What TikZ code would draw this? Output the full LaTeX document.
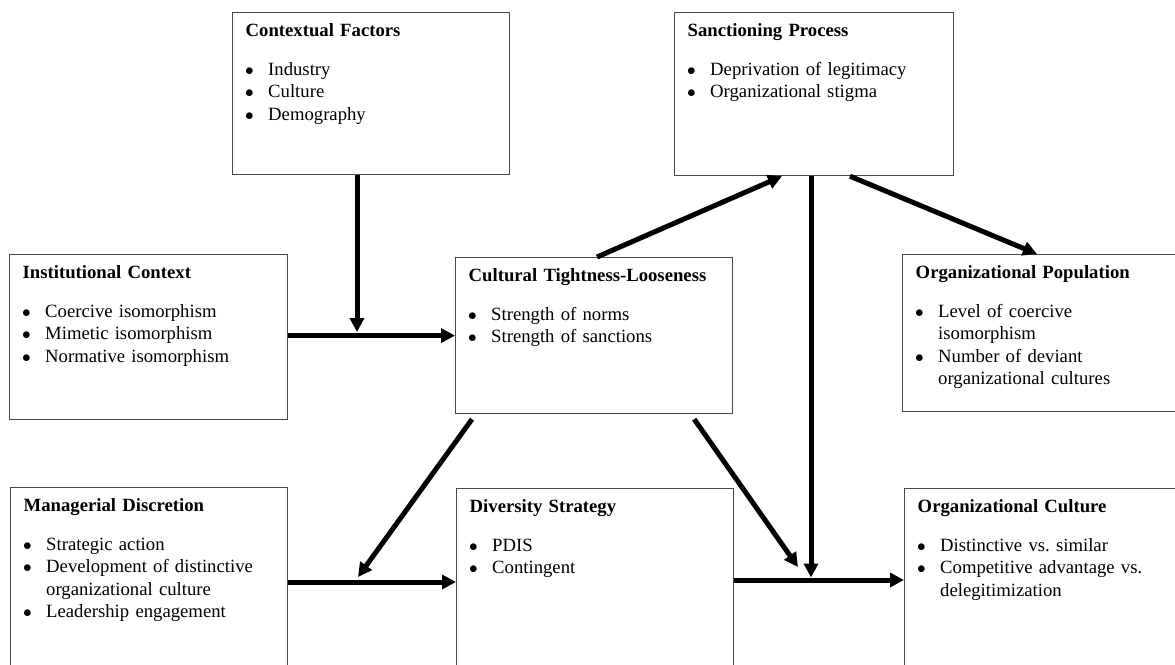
\documentclass[tikz,border=0pt]{standalone}
\usepackage{fontspec}
\setmainfont{Liberation Serif}
\usetikzlibrary{arrows.meta,calc}
\frenchspacing
\newcommand{\ttl}[1]{\noindent\rule{0pt}{14pt}\textbf{#1}\par\vspace{17pt}}
\newcommand{\bitem}[1]{\hangindent=22.5pt\hangafter=1\noindent\makebox[22.5pt][l]{\hspace{-0.7pt}$\bullet$}#1\par}
\begin{document}
\begin{tikzpicture}[x=1pt,y=-1pt,
  boxnode/.style={draw=black!72, line width=1.2pt, anchor=north west, inner sep=0pt},
  txt/.style={anchor=north west, inner sep=0pt, text width=262pt, align=left, font=\fontsize{18.7}{22.3}\selectfont},
  arr/.style={line width=5pt, -{Triangle[length=14pt,width=14pt]}},
]
\useasboundingbox (0,0) rectangle (1175,664);
\clip (0,0) rectangle (1175,664);
% boxes
\node[boxnode, minimum width=277pt, minimum height=162pt] (ctx)  at (232,12) {};
\node[boxnode, minimum width=279pt, minimum height=163pt] (sanc) at (674,12) {};
\node[boxnode, minimum width=278pt, minimum height=165pt] (inst) at (9,254) {};
\node[boxnode, minimum width=277pt, minimum height=156pt] (cult) at (455,257) {};
\node[boxnode, minimum width=290pt, minimum height=157pt] (pop)  at (902,254) {};
\node[boxnode, minimum width=277pt, minimum height=200pt] (mgr)  at (10,487) {};
\node[boxnode, minimum width=277pt, minimum height=200pt] (div)  at (456,488) {};
\node[boxnode, minimum width=290pt, minimum height=200pt] (oc)   at (904,488) {};
% texts
\node[txt] (ctx-t) at ([xshift=13.5pt,yshift=-10pt]ctx.north west)
  {\ttl{Contextual Factors}\bitem{Industry}\bitem{Culture}\bitem{Demography}};
\node[txt] (sanc-t) at ([xshift=13.5pt,yshift=-10pt]sanc.north west)
  {\ttl{Sanctioning Process}\bitem{Deprivation of legitimacy}\bitem{Organizational stigma}};
\node[txt] (inst-t) at ([xshift=13.5pt,yshift=-10pt]inst.north west)
  {\ttl{Institutional Context}\bitem{Coercive isomorphism}\bitem{Mimetic isomorphism}\bitem{Normative isomorphism}};
\node[txt] (cult-t) at ([xshift=13.5pt,yshift=-10pt]cult.north west)
  {\ttl{Cultural Tightness-Looseness}\bitem{Strength of norms}\bitem{Strength of sanctions}};
\node[txt] (pop-t) at ([xshift=13.5pt,yshift=-10pt]pop.north west)
  {\ttl{Organizational Population}\bitem{Level of coercive\newline isomorphism}\bitem{Number of deviant\newline organizational cultures}};
\node[txt] (mgr-t) at ([xshift=13.5pt,yshift=-10pt]mgr.north west)
  {\ttl{Managerial Discretion}\bitem{Strategic action}\bitem{Development of distinctive\newline organizational culture}\bitem{Leadership engagement}};
\node[txt] (div-t) at ([xshift=13.5pt,yshift=-10pt]div.north west)
  {\ttl{Diversity Strategy}\bitem{PDIS}\bitem{Contingent}};
\node[txt] (oc-t) at ([xshift=13.5pt,yshift=-10pt]oc.north west)
  {\ttl{Organizational Culture}\bitem{Distinctive vs. similar}\bitem{Competitive advantage vs.\newline delegitimization}};
% junctions
\coordinate (j1) at (357,335);
\coordinate (m1) at (358,582);
\coordinate (m2) at (811,580);
% connectors
\draw[arr] (inst.east |- cult.west) -- (cult.west);
\draw[arr] (ctx.south -| j1) -- ([yshift=3pt]j1);
\draw[arr] ([xshift=142pt]cult.north west) -- ([xshift=108pt]sanc.south west);
\draw[arr] ([xshift=176pt]sanc.south west) -- ([xshift=135pt]pop.north west);
\draw[arr] (sanc.south -| m2) -- ([yshift=2.5pt]m2);
\draw[arr] (mgr.east |- m1) -- (div.west |- m1);
\draw[arr] (div.east |- m2) -- (oc.west |- m2);
\draw[arr] ([xshift=17pt,yshift=-5pt]cult.south west) -- ([yshift=5pt]m1);
\draw[arr] ([xshift=-39pt,yshift=-5pt]cult.south east) -- ([xshift=-13pt,yshift=13pt]m2);
\end{tikzpicture}
\end{document}
